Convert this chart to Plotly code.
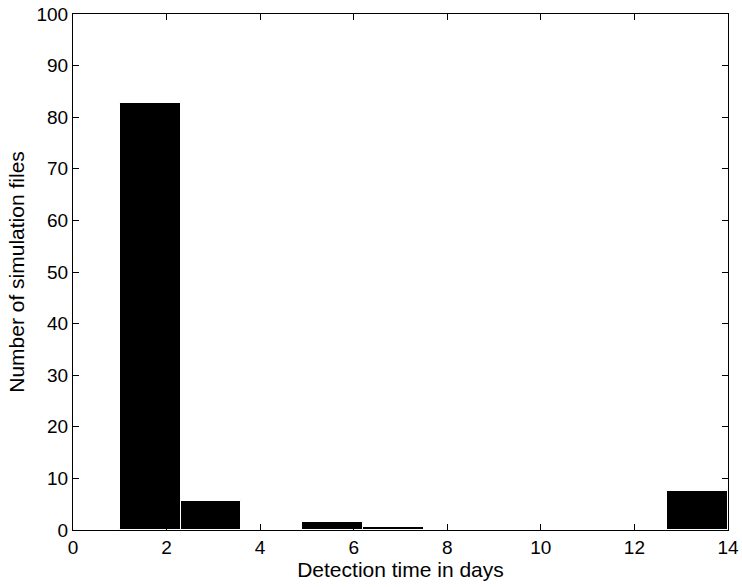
import plotly.graph_objects as go

bin_centers = [1.65, 2.95, 4.25, 5.55, 6.85, 8.15, 9.45, 10.75, 12.05, 13.35]
counts = [82.7, 5.6, 0, 1.55, 0.5, 0, 0, 0, 0, 7.6]
x_ticks = [0, 2, 4, 6, 8, 10, 12, 14]
y_ticks = [0, 10, 20, 30, 40, 50, 60, 70, 80, 90, 100]

fig = go.Figure()
fig.add_trace(go.Bar(
    x=bin_centers, y=counts, width=1.3,
    marker=dict(color="black", line=dict(color="white", width=1)),
))

font = dict(family="Liberation Sans, Arial, sans-serif", size=19, color="black")
axis_common = dict(
    showgrid=False, zeroline=False, showline=True, linecolor="black", linewidth=1,
    mirror="allticks", ticks="inside", ticklen=6, tickwidth=1, tickcolor="black",
    tickfont=font, automargin=False,
)
fig.update_layout(
    width=742, height=587,
    margin=dict(l=73, r=14, t=14, b=57),
    paper_bgcolor="white", plot_bgcolor="white",
    showlegend=False, bargap=0,
    font=font,
    xaxis=dict(range=[0, 14], tickvals=x_ticks, ticktext=[str(v) for v in x_ticks],
               title=dict(text="Detection time in days", font=dict(size=21), standoff=0),
               **axis_common),
    yaxis=dict(range=[0, 100], tickvals=y_ticks, ticktext=[str(v) for v in y_ticks],
               title=dict(text="Number of simulation files", font=dict(size=21), standoff=6),
               **axis_common),
)
fig.write_html("out.html")
